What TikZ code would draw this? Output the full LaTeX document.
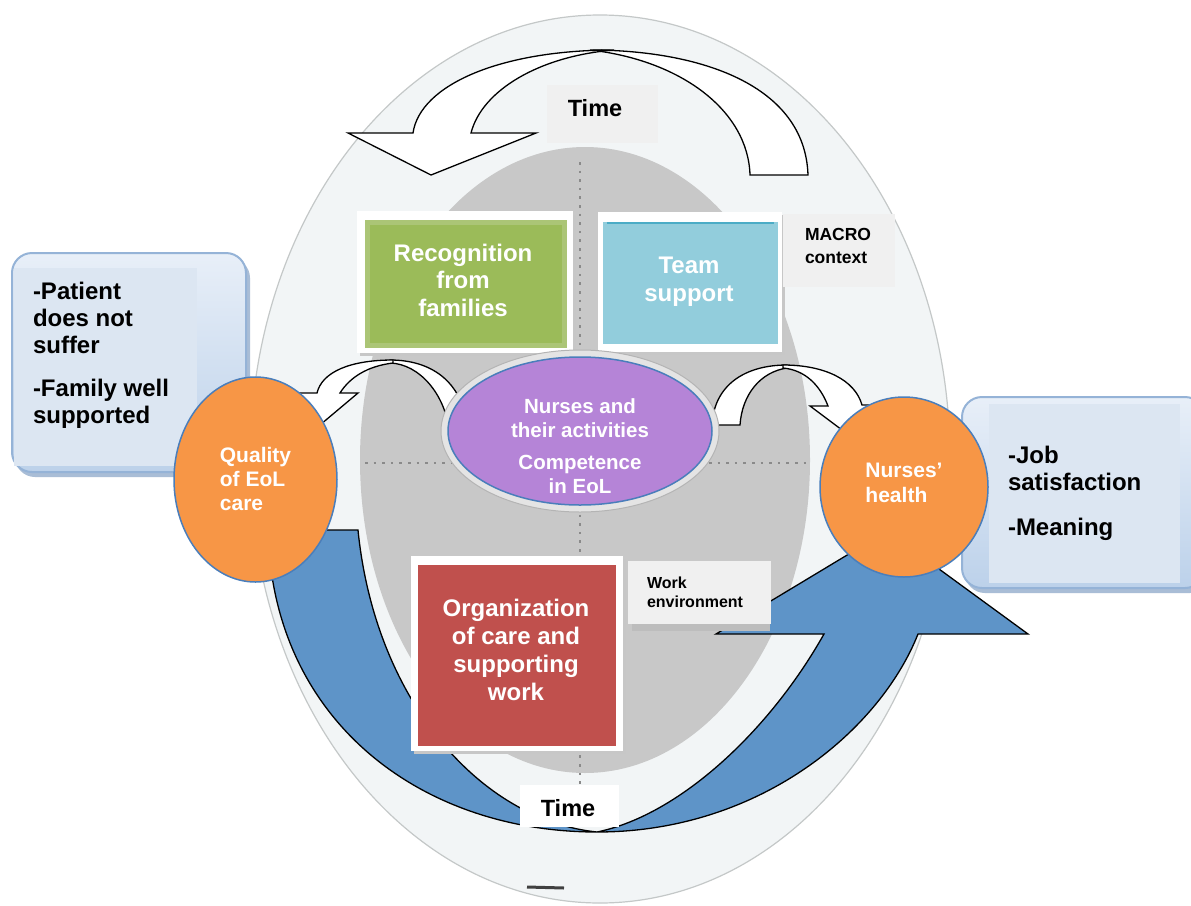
\documentclass[tikz,border=0pt]{standalone}
\usepackage{fontspec}
\setmainfont{Liberation Sans}
\usetikzlibrary{shapes.geometric}
\definecolor{outerfill}{HTML}{F2F5F6}
\definecolor{outerline}{HTML}{C4C8C8}
\definecolor{grayfill}{HTML}{C8C8C8}
\definecolor{dotcol}{HTML}{8A8A8A}
\definecolor{lightbox}{HTML}{F0F0F0}
\definecolor{arrowblue}{HTML}{5E94C8}
\definecolor{greenfill}{HTML}{9BBB59}
\definecolor{greenedge}{HTML}{ABC576}
\definecolor{tealfill}{HTML}{92CDDC}
\definecolor{tealedge}{HTML}{4BACC6}
\definecolor{redfill}{HTML}{C0504D}
\definecolor{purplefill}{HTML}{B584D7}
\definecolor{orangefill}{HTML}{F79646}
\definecolor{circline}{HTML}{4A7EBB}
\definecolor{boxfill}{HTML}{DCE6F2}
\definecolor{boxedge}{HTML}{95B3D7}
\definecolor{boxtop}{HTML}{E8EFF8}
\definecolor{boxbottom}{HTML}{BCD1EA}
\definecolor{shadowblue}{HTML}{A9BDD6}
\definecolor{shadowgray}{HTML}{BDBDBD}
\definecolor{glowfill}{HTML}{E4E4E4}
\definecolor{glowline}{HTML}{B4B4B4}
\newcommand{\myfs}[2]{\fontsize{#1pt}{#2pt}\selectfont}
\begin{document}
\begin{tikzpicture}[x=1pt,y=-1pt,
  lbl/.style={inner sep=0pt, outer sep=0pt},
  whitetext/.style={lbl, text=white},
  bendarrow/.style={fill=white, draw=black, line width=1.3pt, line join=miter},
  oval/.style={ellipse, inner sep=0pt, outer sep=0pt, draw=circline, line width=1.5pt},
  plainbox/.style={inner sep=0pt, outer sep=0pt},
  dotline/.style={dotcol, line width=2.6pt, dash pattern=on 2.6pt off 6pt},
  outcome/.style={draw=boxedge, line width=2pt, rounded corners=20pt, top color=boxtop, bottom color=boxbottom}
]
\useasboundingbox (0,0) rectangle (1191,905);
\fill[white] (0,0) rectangle (1191,905);

% background ellipses
\filldraw[fill=outerfill, draw=outerline, line width=1.2pt] (600,459) ellipse [x radius=350, y radius=444];
\fill[grayfill] (585,460) ellipse [x radius=225, y radius=313];
\draw[dotline] (580,162) -- (580,790);
\draw[dotline] (365,463) -- (810,463);

% top curved Time arrow
\draw[bendarrow] (808,175) .. controls (805,85) and (700,50) .. (590,50)
  .. controls (680,60) and (748,110) .. (750,175) -- cycle;
\draw[bendarrow] (614,50) .. controls (500,50) and (420,85) .. (413,133)
  -- (348,133) -- (431,175) -- (536,133) -- (471,133)
  .. controls (482,90) and (540,56) .. (614,50) -- cycle;
\fill[lightbox] (547,85) rectangle (658,143);
\node[lbl, font=\bfseries\myfs{23.5}{27}] (timetop) at (595,108) {Time};

% big blue U arrow
\draw[fill=arrowblue, draw=black, line width=1.3pt, line join=miter]
  (268,530) .. controls (272,720) and (420,832) .. (597,832)
  .. controls (760,832) and (880,730) .. (918,634)
  -- (1028,634) -- (887,531) -- (716,634) -- (824,634)
  .. controls (770,730) and (680,815) .. (597,832)
  .. controls (480,820) and (375,700) .. (358,530) -- cycle;

% outcome boxes
\fill[shadowblue, rounded corners=20pt] (15,258) rectangle (250,477);
\draw[outcome] (12,253) rectangle (246,472);
\fill[boxfill] (14,268) rectangle (197,466);
\node[lbl, font=\bfseries\myfs{24}{27}, align=left, anchor=west] (outleft) at (33,355)
  {-Patient\\does not\\suffer\\[16pt]-Family well\\supported};

\fill[shadowblue, rounded corners=20pt] (965,402) rectangle (1210,593);
\draw[outcome] (962,397) rectangle (1205,588);
\fill[boxfill] (989,404) rectangle (1180,583);
\node[lbl, font=\bfseries\myfs{24}{26.5}, align=left, anchor=west] (outright) at (1008,493.5)
  {-Job\\satisfaction\\[18.5pt]-Meaning};

% Recognition box
\fill[black!22] (360,215) rectangle (576,356);
\fill[white] (357,211) rectangle (573,353);
\node[plainbox, fill=greenfill, draw=greenedge, line width=5pt, minimum width=197pt, minimum height=123pt] (recog) at (466,284) {};
\node[whitetext, font=\bfseries\myfs{24}{27.5}, align=center] (recogtext) at (463,280) {Recognition\\from\\families};

% Team support box
\fill[black!22] (601,215) rectangle (785,355);
\fill[white] (598,212) rectangle (782,352);
\node[plainbox, fill=tealfill, minimum width=175pt, minimum height=122pt] (team) at (690.5,283) {};
\draw[tealedge, line width=2pt] (607,223) -- (774,223);
\node[whitetext, font=\bfseries\myfs{24}{28}, align=center] (teamtext) at (689,282) {Team\\support};

% MACRO context
\fill[lightbox] (783,214) rectangle (895,287);
\node[lbl, font=\bfseries\myfs{17.5}{23}, align=left, anchor=west] (macro) at (805,246) {MACRO\\context};

% Organization box
\fill[black!22] (414,559) rectangle (626,754);
\fill[white] (411,556) rectangle (623,751);
\node[plainbox, fill=redfill, minimum width=198pt, minimum height=181pt] (org) at (517,655.5) {};
\node[whitetext, font=\bfseries\myfs{24}{28}, align=center] (orgtext) at (516,649.5) {Organization\\of care and\\supporting\\work};

% Work environment
\fill[shadowgray] (632,622) rectangle (770,631);
\fill[lightbox] (628,561) rectangle (771,624);
\node[lbl, font=\bfseries\myfs{16}{19}, align=left, anchor=west] (workenv) at (647,592.5) {Work\\environment};

% bottom Time
\fill[white] (520,785) rectangle (619,827);
\node[lbl, font=\bfseries\myfs{23.5}{27}] (timebottom) at (568,808) {Time};

% small curved arrows
\draw[bendarrow] (390,360) .. controls (430,360) and (462,380) .. (468,428)
  -- (449,430) .. controls (445,395) and (420,364) .. (390,363) -- cycle;
\draw[bendarrow] (393,360) .. controls (350,360) and (322,372) .. (317,393)
  -- (298,393) -- (314,430) -- (358,393) -- (340,393)
  .. controls (350,377) and (368,366) .. (393,363) -- cycle;

\draw[bendarrow] (787,365) .. controls (745,365) and (714,385) .. (712,425)
  -- (740,425) .. controls (742,395) and (760,372) .. (787,368) -- cycle;
\draw[bendarrow] (783,365) .. controls (825,365) and (855,380) .. (862,405)
  -- (880,405) -- (858,442) -- (810,406) -- (828,406)
  .. controls (820,385) and (805,370) .. (783,368) -- cycle;

% central ellipse
\node[ellipse, inner sep=0pt, fill=glowfill, draw=glowline, line width=1pt, minimum width=278pt, minimum height=162pt] (glow) at (580,431) {};
\node[oval, fill=purplefill, minimum width=264pt, minimum height=148pt] (nurses) at (580,431) {};
\node[whitetext, font=\bfseries\myfs{20.5}{24}, align=center] (nursestext) at (580,446)
  {Nurses and\\their activities\\[8pt]Competence\\in EoL};

% orange circles
\node[oval, fill=orangefill, minimum width=163pt, minimum height=205pt] (qual) at (255.5,479.5) {};
\node[whitetext, font=\bfseries\myfs{21}{24}, align=left] (qualtext) at (255.5,479) {Quality\\of EoL\\care};

\node[oval, fill=orangefill, minimum width=168pt, minimum height=180pt] (health) at (904,487) {};
\node[whitetext, font=\bfseries\myfs{21}{25}, align=left] (healthtext) at (904,482.5) {Nurses’\\health};

% small dash at bottom
\draw[black!75, line width=3pt] (527,887) -- (564,888);
\end{tikzpicture}
\end{document}
